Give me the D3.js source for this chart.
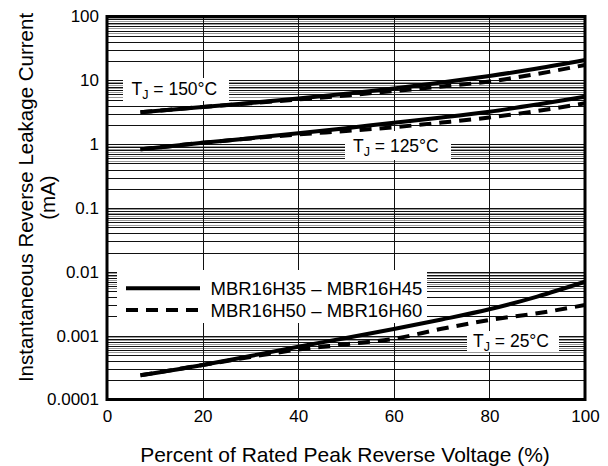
<!DOCTYPE html>
<html>
<head>
<meta charset="utf-8">
<script src="https://cdn.jsdelivr.net/npm/d3@7/dist/d3.min.js"></script>
<style>
  html, body { margin: 0; padding: 0; background: #fff; }
  svg { display: block; font-family: "Liberation Sans", Arial, Helvetica, sans-serif; }
</style>
</head>
<body>
<svg id="chart" width="608" height="466"></svg>
<script>
// ---- data ----
const percentVoltage = [7, 20, 30, 40, 50, 60, 70, 80, 90, 100];
const tj150_H35_H45 = [3.16, 3.82, 4.42, 5.19, 6.18, 7.45, 9.25, 11.7, 15.3, 20.8];
const tj150_H50_H60 = [3.16, 3.82, 4.37, 5.01, 5.78, 6.81, 8.0, 9.59, 12.6, 17.4];
const tj125_H35_H45 = [0.83, 1.05, 1.24, 1.48, 1.78, 2.17, 2.62, 3.23, 4.18, 5.54];
const tj125_H50_H60 = [0.83, 1.05, 1.23, 1.42, 1.61, 1.84, 2.18, 2.62, 3.31, 4.37];
const tj25_H35_H45 = [0.000239, 0.000347, 0.000480, 0.000671, 0.000918, 0.00127, 0.00179, 0.00259, 0.00410, 0.00700];
const tj25_H50_H60 = [0.000239, 0.000347, 0.000463, 0.000607, 0.000734, 0.000893, 0.00128, 0.00176, 0.00224, 0.00302];
const yTickValues = [100, 10, 1, 0.1, 0.01, 0.001, 0.0001];
const yTickLabels = ["100", "10", "1", "0.1", "0.01", "0.001", "0.0001"];
const xTickValues = [0, 20, 40, 60, 80, 100];
const seriesNames = ["MBR16H35 \u2013 MBR16H45", "MBR16H50 \u2013 MBR16H60"];
const tempLabels = ["150\u00B0C", "125\u00B0C", "25\u00B0C"];

// ---- layout ----
const L = 107, R = 585, T = 16.5, B = 399.5;
const svg = d3.select("#chart");
const x = d3.scaleLinear().domain([0, 100]).range([L, R]);
const y = d3.scaleLog().domain([0.0001, 100]).range([B, T]);

// grid
const grid = svg.append("g").attr("shape-rendering", "crispEdges");
const blackMinor = [], grayMinor = [];
for (let e = -4; e <= 1; e++) {
  const d = Math.pow(10, e);
  for (let k = 1; k <= 9; k++) blackMinor.push(k * d);
  for (let k = 5.5; k <= 9.5; k += 1) grayMinor.push(k * d);
}
grid.selectAll("line.g").data(grayMinor).join("line")
  .attr("x1", L).attr("x2", R)
  .attr("y1", d => Math.round(y(d)) + 0.5).attr("y2", d => Math.round(y(d)) + 0.5)
  .attr("stroke", "#9a9a9a").attr("stroke-width", 1);
grid.selectAll("line.b").data(blackMinor).join("line")
  .attr("x1", L).attr("x2", R)
  .attr("y1", d => Math.round(y(d)) + 0.5).attr("y2", d => Math.round(y(d)) + 0.5)
  .attr("stroke", "#111").attr("stroke-width", 1);
grid.selectAll("line.v").data([20, 40, 60, 80]).join("line")
  .attr("y1", T).attr("y2", B)
  .attr("x1", d => Math.round(x(d)) + 0.5).attr("x2", d => Math.round(x(d)) + 0.5)
  .attr("stroke", "#111").attr("stroke-width", 1);

// white boxes covering grid behind labels
const boxes = [
  [123, 78, 106, 23],
  [345, 131, 106, 29],
  [467, 331, 92, 21],
  [117, 270, 310, 53]
];
svg.append("g").selectAll("rect").data(boxes).join("rect")
  .attr("x", d => d[0]).attr("y", d => d[1]).attr("width", d => d[2]).attr("height", d => d[3])
  .attr("fill", "#fff");

// curves
const line = d3.line().x((d, i) => x(percentVoltage[i])).y(d => y(d)).curve(d3.curveMonotoneX);
const curves = [
  [tj150_H35_H45, false], [tj150_H50_H60, true],
  [tj125_H35_H45, false], [tj125_H50_H60, true],
  [tj25_H35_H45, false], [tj25_H50_H60, true]
];
svg.append("g").selectAll("path").data(curves).join("path")
  .attr("d", d => line(d[0]))
  .attr("fill", "none").attr("stroke", "#000").attr("stroke-width", 4)
  .attr("stroke-dasharray", d => d[1] ? "12,8" : null);

// axes
const yAxis = d3.axisLeft(y).tickValues(yTickValues)
  .tickFormat((d, i) => yTickLabels[i]).tickSize(0).tickPadding(8);
const gy = svg.append("g").attr("transform", `translate(${L},0)`).call(yAxis);
gy.select(".domain").remove();
gy.selectAll("text").attr("font-size", 17).attr("fill", "#000")
  .attr("font-family", "Liberation Sans, Arial, sans-serif");

const xAxis = d3.axisBottom(x).tickValues(xTickValues).tickFormat(d3.format("d"))
  .tickSize(0).tickPadding(10.5);
const gx = svg.append("g").attr("transform", `translate(0,${B})`).call(xAxis);
gx.select(".domain").remove();
gx.selectAll("text").attr("font-size", 17).attr("fill", "#000")
  .attr("font-family", "Liberation Sans, Arial, sans-serif");

// border
svg.append("rect").attr("x", L).attr("y", T).attr("width", R - L).attr("height", B - T)
  .attr("fill", "none").attr("stroke", "#000").attr("stroke-width", 3);

// temperature labels
function tjLabel(px, py, t) {
  const txt = svg.append("text").attr("x", px).attr("y", py).attr("font-size", 17.5).attr("fill", "#000");
  txt.append("tspan").text("T");
  txt.append("tspan").attr("font-size", 12.5).attr("dy", 4).text("J");
  txt.append("tspan").attr("dy", -4).text(" = " + t);
}
tjLabel(131.5, 95, tempLabels[0]);
tjLabel(353, 151.5, tempLabels[1]);
tjLabel(473, 347, tempLabels[2]);

// legend
const lg = svg.append("g");
lg.append("line").attr("x1", 126).attr("x2", 200).attr("y1", 288.3).attr("y2", 288.3)
  .attr("stroke", "#000").attr("stroke-width", 4);
lg.append("line").attr("x1", 126).attr("x2", 200).attr("y1", 310).attr("y2", 310)
  .attr("stroke", "#000").attr("stroke-width", 4).attr("stroke-dasharray", "12,8");
lg.append("text").attr("x", 210.5).attr("y", 294.5).attr("font-size", 18.5).text(seriesNames[0]);
lg.append("text").attr("x", 210.5).attr("y", 316.5).attr("font-size", 18.5).text(seriesNames[1]);

// axis titles
svg.append("text").attr("x", 345).attr("y", 461.5).attr("text-anchor", "middle")
  .attr("font-size", 21).text("Percent of Rated Peak Reverse Voltage (%)");
const yt = svg.append("text").attr("transform", "translate(33,197.5) rotate(-90)")
  .attr("text-anchor", "middle").attr("font-size", 20.5);
yt.append("tspan").attr("x", 0).attr("y", 0).text("Instantaneous Reverse Leakage Current");
yt.append("tspan").attr("x", 0).attr("y", 22).text("(mA)");
</script>
</body>
</html>
